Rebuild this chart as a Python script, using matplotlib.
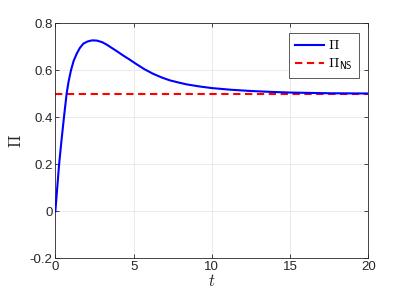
import matplotlib.pyplot as plt

plt.rcParams['font.family'] = ['Liberation Sans', 'DejaVu Sans']
plt.rcParams['mathtext.fontset'] = 'cm'

# values
t = [0, 0.12, 0.24, 0.39, 0.55, 0.72, 0.84, 1.0, 1.17, 1.37, 1.57, 1.79,
     2.05, 2.35, 2.65, 3.0, 3.3, 3.6, 3.95, 4.3, 4.75, 5.2, 5.7, 6.24, 6.8,
     7.31, 7.85, 8.37, 9.2, 10, 11.2, 12.4, 13.7, 15, 17.5, 20]
pi_vals = [0, 0.1, 0.2, 0.3, 0.4, 0.5, 0.55, 0.6, 0.64, 0.671, 0.695, 0.713,
           0.722, 0.727, 0.726, 0.719, 0.708, 0.695, 0.68, 0.664, 0.645,
           0.625, 0.604, 0.585, 0.569, 0.557, 0.548, 0.540, 0.531, 0.524,
           0.517, 0.512, 0.508, 0.505, 0.502, 0.501]
pi_ns = 0.5
t_range = [0, 20]

xticks = [0, 5, 10, 15, 20]
yticks = [-0.2, 0, 0.2, 0.4, 0.6, 0.8]
ytick_labels = ['-0.2', '0', '0.2', '0.4', '0.6', '0.8']

fig = plt.figure(figsize=(4.07, 3.05), dpi=100)
ax = fig.add_axes([0.136, 0.153, 0.769, 0.771])

ax.plot(t, pi_vals, color='#0000ff', lw=1.5, label=r'$\Pi$', zorder=3,
        solid_joinstyle='round')
ax.plot(t_range, [pi_ns, pi_ns], color='#ff0000', lw=1.5, ls=(0, (3.5, 2.2)),
        label=r'$\Pi_\mathsf{NS}$', zorder=2)

ax.set_xlim(0, 20)
ax.set_ylim(-0.2, 0.8)
ax.set_xticks(xticks)
ax.set_yticks(yticks)
ax.set_yticklabels(ytick_labels)

ax.grid(True, color='#e6e6e6', lw=0.6)
ax.set_axisbelow(True)
ax.tick_params(direction='in', length=3, width=0.6, colors='#262626',
               labelsize=9.5, top=True, right=True, pad=2)
for s in ax.spines.values():
    s.set_color('#262626')
    s.set_linewidth(0.6)

ax.set_xlabel(r'$t$', fontsize=12, color='#262626', labelpad=0)
ax.set_ylabel(r'$\Pi$', fontsize=12, color='#262626', labelpad=4)

leg = ax.legend(loc='upper right', fontsize=10, frameon=True, fancybox=False,
                edgecolor='#404040', framealpha=1, handlelength=2.1,
                borderaxespad=0.7, borderpad=0.4, labelspacing=0.3,
                handletextpad=0.3)
leg.get_frame().set_linewidth(0.6)

fig.savefig('out.png', dpi=100)
